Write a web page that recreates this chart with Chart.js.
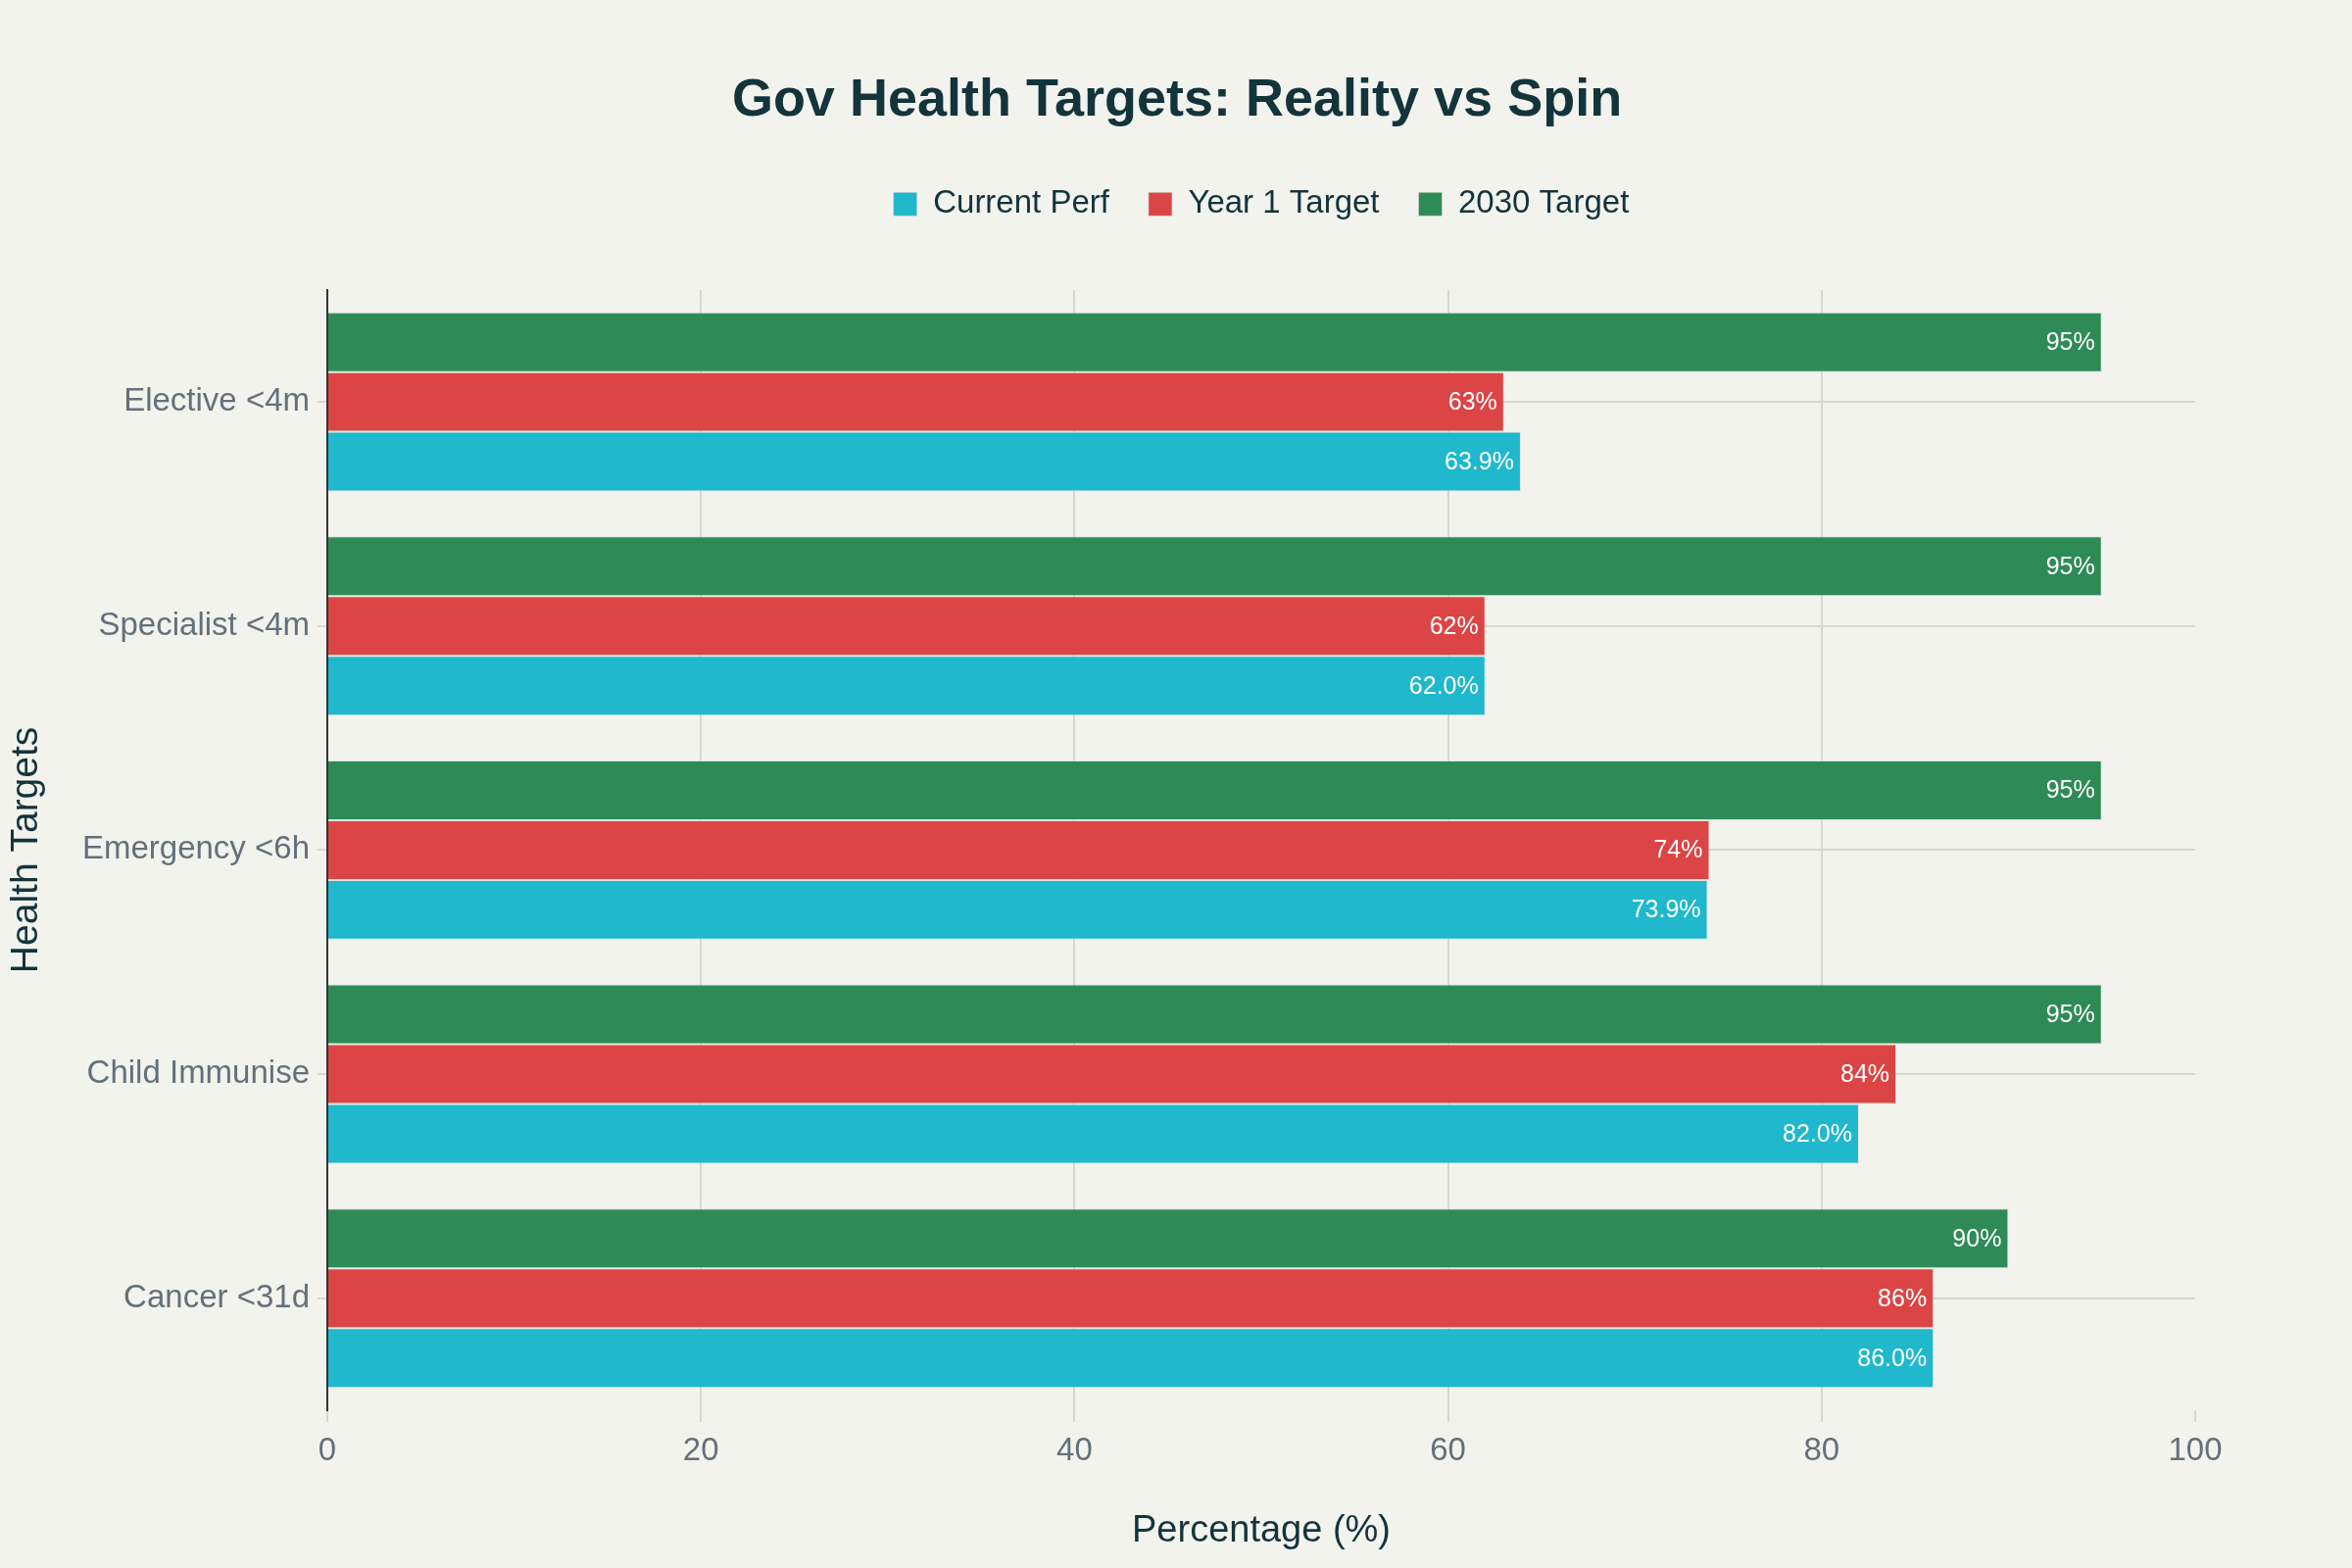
<!DOCTYPE html>
<html>
<head>
<meta charset="utf-8">
<script src="https://cdn.jsdelivr.net/npm/chart.js@4.4.1/dist/chart.umd.min.js"></script>
<style>
  html, body { margin: 0; padding: 0; background: #f3f3ee; }
  #wrap { width: 2400px; height: 1600px; }
</style>
</head>
<body>
<div id="wrap"><canvas id="myChart" width="2400" height="1600"></canvas></div>
<script>
const categories = ["Elective <4m", "Specialist <4m", "Emergency <6h", "Child Immunise", "Cancer <31d"];
const currentPerf = [63.9, 62.0, 73.9, 82.0, 86.0];
const year1Target = [63, 62, 74, 84, 86];
const target2030 = [95, 95, 95, 95, 90];
const xTicks = [0, 20, 40, 60, 80, 100];

const FONT = '"Liberation Sans", Arial, sans-serif';
const DARK = "#13343b";
const GREY = "#64707a";
const GRID = "#d8d6d0";

// white value text at the end of each bar
const barLabels = {
  id: "barLabels",
  afterDatasetsDraw(chart) {
    const ctx = chart.ctx;
    ctx.save();
    ctx.font = "25px " + FONT;
    ctx.fillStyle = "#ffffff";
    ctx.textAlign = "right";
    ctx.textBaseline = "middle";
    chart.data.datasets.forEach((ds, i) => {
      chart.getDatasetMeta(i).data.forEach((bar, j) => {
        const v = ds.data[j];
        const txt = ds.decimals ? v.toFixed(1) + "%" : v + "%";
        ctx.fillText(txt, bar.x - 7, bar.y + 1);
      });
    });
    ctx.restore();
  },
};

// empty axes used only as spacers (right margin, gap under the legend)
function spacer(position, size) {
  return {
    type: "linear",
    position: position,
    display: true,
    grid: { display: false },
    border: { display: false },
    ticks: { display: false },
    afterFit: (scale) => {
      if (position === "top") scale.height = size;
      else scale.width = size;
    },
  };
}

function myLoadFunction() {
  const ctx = document.getElementById("myChart");

  // dataset order top-to-bottom inside each group; legend is reversed
  const datasets = [
    { label: "2030 Target", data: target2030, backgroundColor: "#2e8b57", decimals: false },
    { label: "Year 1 Target", data: year1Target, backgroundColor: "#db4545", decimals: false },
    { label: "Current Perf", data: currentPerf, backgroundColor: "#1fb8cd", decimals: true },
  ];
  datasets.forEach((d) => {
    d.borderColor = "rgba(215,215,210,0.6)";
    d.borderWidth = 1;
    d.categoryPercentage = 0.8;
    d.barPercentage = 1.0;
  });

  new Chart(ctx, {
    type: "bar",
    data: { labels: categories, datasets: datasets },
    plugins: [barLabels],
    options: {
      indexAxis: "y",
      responsive: false,
      animation: false,
      devicePixelRatio: 1,
      layout: { padding: { top: 0, right: 0, bottom: 0, left: 2 } },
      plugins: {
        title: {
          display: true,
          text: "Gov Health Targets: Reality vs Spin",
          color: DARK,
          font: { family: FONT, size: 54, weight: "bold" },
          padding: { top: 71, bottom: 16 },
        },
        legend: {
          reverse: true,
          fullSize: false,
          labels: {
            color: DARK,
            font: { family: FONT, size: 33 },
            boxWidth: 24,
            boxHeight: 24,
            padding: 40,
          },
        },
        tooltip: { enabled: false },
      },
      scales: {
        x: {
          min: 0,
          max: 100,
          afterBuildTicks: (scale) => {
            scale.ticks = xTicks.map((v) => ({ value: v }));
          },
          afterFit: (scale) => {
            scale.height = 161;
          },
          grid: {
            color: (c) => (c.tick && c.tick.value === 100 ? "rgba(0,0,0,0)" : GRID),
            tickColor: GRID,
            lineWidth: 2,
            tickLength: 12,
          },
          border: { display: false },
          ticks: { color: GREY, font: { family: FONT, size: 33 }, padding: 10 },
          title: {
            display: true,
            text: "Percentage (%)",
            color: DARK,
            font: { family: FONT, size: 38 },
            padding: { top: 0, bottom: 15 },
          },
        },
        y: {
          afterFit: (scale) => {
            scale.width = 332;
          },
          grid: { offset: false, color: GRID, lineWidth: 2, tickLength: 10 },
          border: { display: true, color: "#333333", width: 2 },
          ticks: { color: GREY, font: { family: FONT, size: 33 }, padding: 8 },
          title: {
            display: true,
            text: "Health Targets",
            color: DARK,
            font: { family: FONT, size: 39 },
            padding: { top: 2, bottom: 20 },
          },
        },
        gapTop: spacer("top", 61),
        gapRight: spacer("right", 160),
      },
    },
  });
}

document.addEventListener("DOMContentLoaded", myLoadFunction);
</script>
</body>
</html>
